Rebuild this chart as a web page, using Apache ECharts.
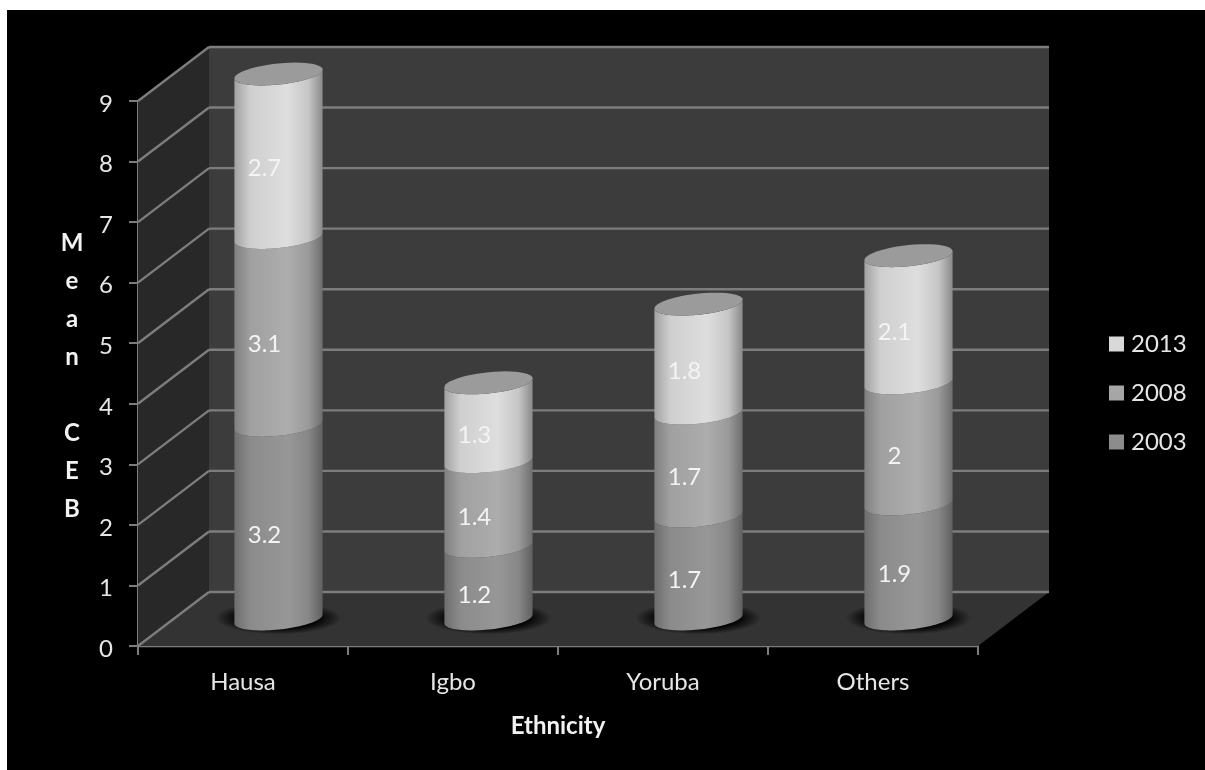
<!DOCTYPE html>
<html>
<head>
<meta charset="utf-8">
<style>
  html, body { margin: 0; padding: 0; background: #fff; overflow: hidden; }
  #panel { position: absolute; left: 7px; top: 10px; right: 0; bottom: 0; background: #000; }
  #chart { position: absolute; left: 0; top: 0; width: 1205px; height: 770px; }
</style>
<script src="https://cdn.jsdelivr.net/npm/echarts@6/dist/echarts.min.js"></script>
</head>
<body>
<div id="panel"></div>
<div id="chart"></div>
<script>
// Mean children ever born by ethnicity, stacked across survey years
const categories = ['Hausa', 'Igbo', 'Yoruba', 'Others'];
const values2003 = [3.2, 1.2, 1.7, 1.9];
const values2008 = [3.1, 1.4, 1.7, 2];
const values2013 = [2.7, 1.3, 1.8, 2.1];
const valueTicks = [0, 1, 2, 3, 4, 5, 6, 7, 8, 9];

const FONT = 'Lato, "Open Sans", sans-serif';
const GRID_COLOR = '#7d7d7d';

// Receding depth of the box that holds the columns
const DEPTH_X = 71;
const DEPTH_Y = 54;

// Shading across a column, left edge to right edge
const shades = {
  2003: { stops: ['#6e6e6e', '#8b8b8b', '#979797', '#878787', '#606060'], legend: '#8c8c8c' },
  2008: { stops: ['#808080', '#a0a0a0', '#adadad', '#9a9a9a', '#6e6e6e'], legend: '#a6a6a6' },
  2013: { stops: ['#a2a2a2', '#cfcfcf', '#dedede', '#c6c6c6', '#8a8a8a'], legend: '#d9d9d9' }
};
const CAP_COLOR = '#9b9b9b';

function polygon(points, fill) {
  return { type: 'polygon', shape: { points }, style: { fill }, silent: true };
}
function segment(x1, y1, x2, y2) {
  return {
    type: 'line',
    shape: { x1, y1, x2, y2 },
    style: { stroke: GRID_COLOR, lineWidth: 2.4 },
    silent: true
  };
}

// Side wall, back wall, floor and the value lines running around them
function renderBox(params, api) {
  const box = params.coordSys;
  const left = box.x;
  const right = box.x + box.width;
  const y0 = api.coord([0, 0])[1];
  const yTop = api.coord([0, valueTicks[valueTicks.length - 1]])[1];
  const children = [
    polygon([[left, yTop], [left + DEPTH_X, yTop - DEPTH_Y], [left + DEPTH_X, y0 - DEPTH_Y], [left, y0]], '#282828'),
    polygon([[left + DEPTH_X, yTop - DEPTH_Y], [right + DEPTH_X, yTop - DEPTH_Y], [right + DEPTH_X, y0 - DEPTH_Y], [left + DEPTH_X, y0 - DEPTH_Y]], '#3c3c3c'),
    polygon([[left, y0], [left + DEPTH_X, y0 - DEPTH_Y], [right + DEPTH_X, y0 - DEPTH_Y], [right, y0]], '#333333')
  ];
  valueTicks.forEach(function (tick) {
    const y = api.coord([0, tick])[1];
    children.push(segment(left, y, left + DEPTH_X, y - DEPTH_Y));
    children.push(segment(left + DEPTH_X, y - DEPTH_Y, right + DEPTH_X, y - DEPTH_Y));
  });
  return { type: 'group', children };
}

// Soft dark pool under each column
function renderShadow(params, api) {
  const base = api.coord([api.value(0), 0]);
  const band = api.size([1, 0])[0];
  return {
    type: 'circle',
    silent: true,
    x: base[0] + DEPTH_X / 2,
    y: base[1] - DEPTH_Y / 2 - 1,
    scaleX: 1,
    scaleY: 0.26,
    shape: { cx: 0, cy: 0, r: band * 0.3 },
    style: {
      fill: {
        type: 'radial', x: 0.5, y: 0.5, r: 0.5,
        colorStops: [
          { offset: 0, color: 'rgba(0,0,0,1)' },
          { offset: 0.65, color: 'rgba(0,0,0,0.9)' },
          { offset: 0.85, color: 'rgba(0,0,0,0.4)' },
          { offset: 1, color: 'rgba(0,0,0,0)' }
        ]
      }
    }
  };
}

// Sheared ellipse arc for the rims of a column, swept between two angles
function rim(cx, cy, rx, from, to) {
  const ry = rx * 0.24;
  const skew = -rx * 0.1;
  const pts = [];
  const steps = 48;
  for (let i = 0; i <= steps; i++) {
    const t = from + (to - from) * i / steps;
    pts.push([cx + rx * Math.cos(t), cy + ry * Math.sin(t) + skew * Math.cos(t)]);
  }
  return pts;
}

function columnRenderer(year, capped) {
  const palette = shades[year].stops;
  return function (params, api) {
    const index = api.value(0);
    const lower = api.coord([index, api.value(1)]);
    const upper = api.coord([index, api.value(2)]);
    const amount = api.value(3);
    const band = api.size([1, 0])[0];
    const rx = band * 0.21;
    const cx = lower[0] + DEPTH_X / 2;
    const yLow = lower[1] - DEPTH_Y / 2;
    const yHigh = upper[1] - DEPTH_Y / 2;
    const body = rim(cx, yLow, rx, Math.PI, 0).concat(rim(cx, yHigh, rx, 0, Math.PI));
    const children = [{
      type: 'polygon',
      silent: true,
      shape: { points: body },
      style: {
        fill: {
          type: 'linear', x: 0, y: 0, x2: 1, y2: 0,
          colorStops: palette.map(function (color, i) {
            const offsets = [0, 0.18, 0.6, 0.84, 1];
            return { offset: offsets[i], color };
          })
        }
      }
    }];
    if (capped) {
      children.push(polygon(rim(cx, yHigh, rx, 0, Math.PI * 2), CAP_COLOR));
    }
    children.push({
      type: 'text',
      silent: true,
      x: cx - 14,
      y: (yLow + yHigh) / 2 + 13,
      style: {
        text: String(amount),
        fill: '#f4f4f4',
        font: '24px ' + FONT,
        align: 'center',
        verticalAlign: 'middle'
      }
    });
    return { type: 'group', children };
  };
}

// Each row holds: category index, stack floor, stack ceiling, segment value
function stackRows(values, beneath) {
  return values.map(function (value, i) {
    const base = beneath.reduce(function (sum, arr) { return sum + arr[i]; }, 0);
    return [i, +base.toFixed(1), +(base + value).toFixed(1), value];
  });
}

function columnSeries(year, rows, capped, z) {
  return {
    type: 'custom',
    name: String(year),
    z,
    itemStyle: { color: shades[year].legend },
    renderItem: columnRenderer(year, capped),
    encode: { x: 0, y: 2 },
    data: rows
  };
}

const chart = echarts.init(document.getElementById('chart'), null, { renderer: 'canvas' });
chart.setOption({
  backgroundColor: 'transparent',
  animation: false,
  // Value axis title, stacked one letter per line
  title: {
    text: 'M\ne\na\nn\n\nC\nE\nB',
    left: 72,
    top: 224,
    padding: 0,
    textAlign: 'center',
    textStyle: { color: '#f2f2f2', fontFamily: FONT, fontSize: 24, fontWeight: 'bold', lineHeight: 38 }
  },
  grid: { left: 138, top: 101, width: 840, height: 545, containLabel: false },
  legend: {
    orient: 'vertical',
    left: 1109,
    top: 332,
    padding: 0,
    itemWidth: 15,
    itemHeight: 15,
    itemGap: 25,
    icon: 'rect',
    selectedMode: false,
    data: ['2013', '2008', '2003'],
    textStyle: { color: '#e6e6e6', fontFamily: FONT, fontSize: 24, padding: [0, 0, 0, 2] }
  },
  xAxis: {
    type: 'category',
    data: categories,
    name: 'Ethnicity',
    nameLocation: 'middle',
    nameGap: 68,
    nameTextStyle: { color: '#f2f2f2', fontFamily: FONT, fontSize: 24, fontWeight: 'bold' },
    axisLine: { show: true, lineStyle: { color: GRID_COLOR, width: 2.4 } },
    axisTick: { show: true, length: 9, alignWithLabel: false, lineStyle: { color: GRID_COLOR, width: 2 } },
    axisLabel: { color: '#e6e6e6', fontFamily: FONT, fontSize: 24, margin: 24, interval: 0 },
    splitLine: { show: false }
  },
  yAxis: {
    type: 'value',
    min: 0,
    max: 9,
    interval: 1,
    axisLine: { show: true, lineStyle: { color: GRID_COLOR, width: 2 } },
    axisTick: { show: true, length: 9, lineStyle: { color: GRID_COLOR, width: 2 } },
    axisLabel: {
      margin: 25,
      formatter: '{tick|{value}}',
      rich: { tick: { color: '#e6e6e6', fontFamily: FONT, fontSize: 24, padding: [6, 0, 0, 0] } }
    },
    splitLine: { show: false }
  },
  series: [
    { type: 'custom', name: 'box', z: 1, silent: true, renderItem: renderBox, encode: { x: 0, y: 1 }, data: [[0, 0]] },
    { type: 'custom', name: 'pool', z: 2, silent: true, renderItem: renderShadow, encode: { x: 0, y: 1 }, data: categories.map(function (c, i) { return [i, 0]; }) },
    columnSeries(2003, stackRows(values2003, []), false, 3),
    columnSeries(2008, stackRows(values2008, [values2003]), false, 4),
    columnSeries(2013, stackRows(values2013, [values2003, values2008]), true, 5)
  ]
});
</script>
</body>
</html>
